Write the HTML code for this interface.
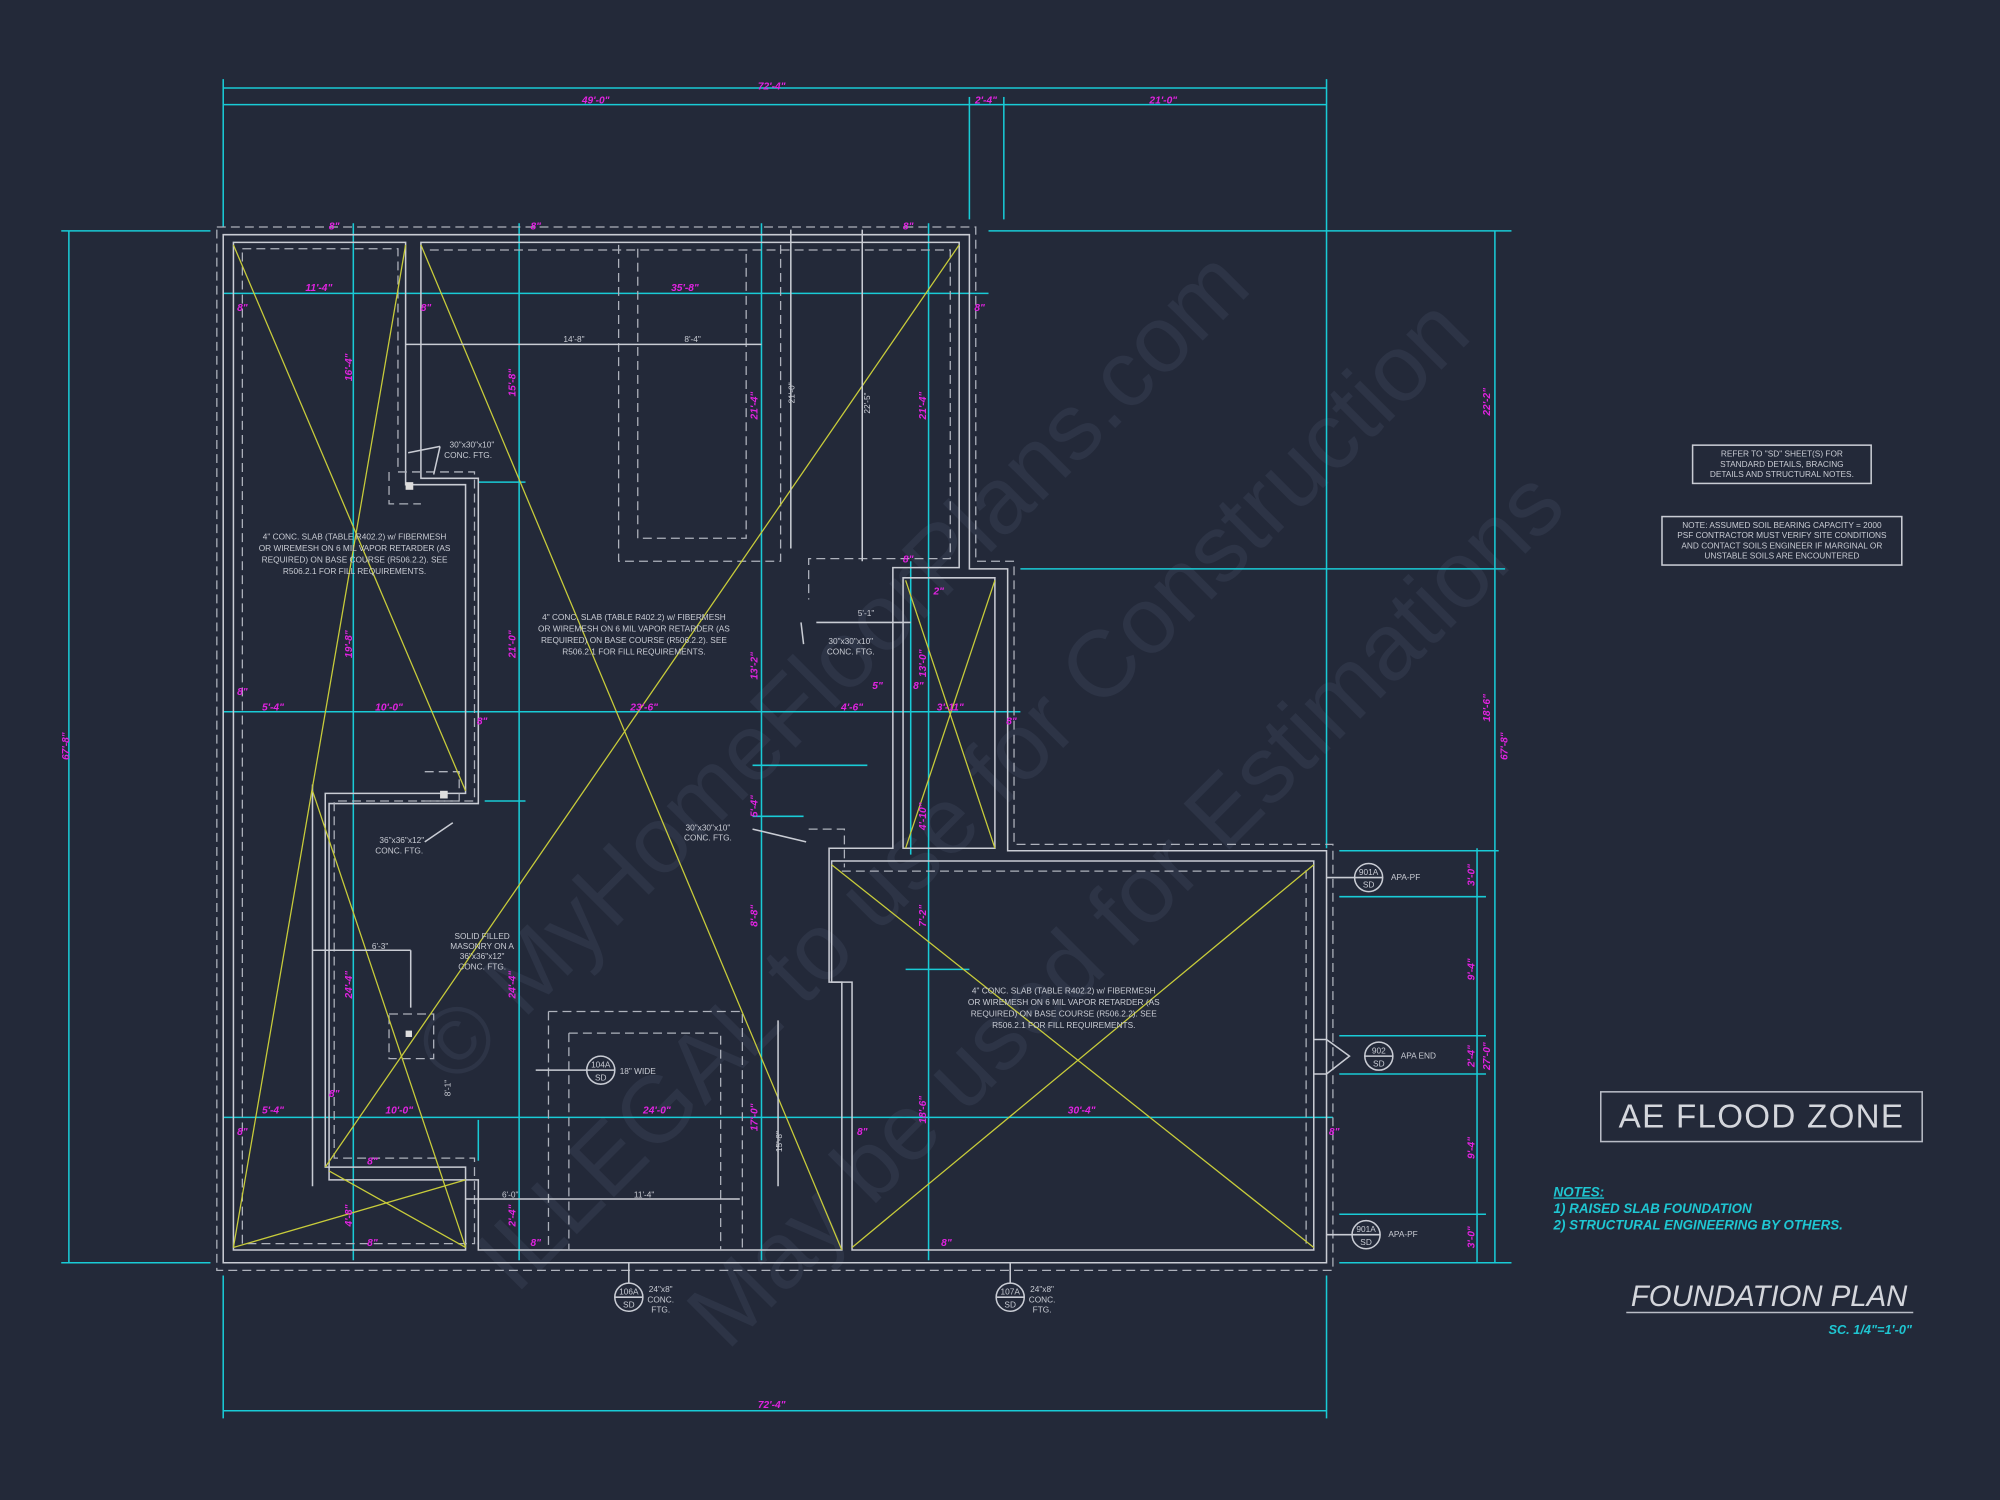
<!DOCTYPE html>
<html><head><meta charset="utf-8"><style>
html,body{margin:0;padding:0;background:#232939;}
svg{display:block}
text{font-family:"Liberation Sans",sans-serif}
.w{stroke:#c9ccd4;fill:none;stroke-width:1.2}
.d{stroke:#aeb2bc;fill:none;stroke-width:1;stroke-dasharray:7 4}
.c{stroke:#19cbd6;fill:none;stroke-width:1.2}
.y{stroke:#c8cc3a;fill:none;stroke-width:1}
.m{fill:#e023e0;font-size:8px;font-style:italic;font-weight:bold}
.t{fill:#c9ccd4;font-size:6.5px}
</style></head><body>
<svg width="2000" height="1500" viewBox="0 0 1568 1176" preserveAspectRatio="none" xmlns="http://www.w3.org/2000/svg">
<rect width="1568" height="1176" fill="#232939"/>
<!-- watermark -->
<g fill="#2d3446" font-family="Liberation Serif,serif" font-size="74" text-anchor="middle">
<text transform="translate(670,540) rotate(-45)">© MyHomeFloorPlans.com</text>
<text transform="translate(780,640) rotate(-45)">ILLEGAL to use for Construction</text>
<text transform="translate(900,730) rotate(-45)">May be used for Estimations</text>
</g>
<!-- overall dims -->
<g class="c">
<line x1="175" y1="69" x2="1040" y2="69"/><line x1="175" y1="82" x2="1040" y2="82"/>
<line x1="175" y1="62" x2="175" y2="178"/><line x1="1040" y1="62" x2="1040" y2="665"/>
<line x1="760" y1="76" x2="760" y2="172"/><line x1="787" y1="76" x2="787" y2="172"/>
<line x1="175" y1="1106" x2="1040" y2="1106"/><line x1="175" y1="1000" x2="175" y2="1112"/><line x1="1040" y1="1000" x2="1040" y2="1112"/>
<line x1="54" y1="181" x2="54" y2="990"/><line x1="1172" y1="181" x2="1172" y2="990"/><line x1="1158" y1="665" x2="1158" y2="990"/>
<line x1="48" y1="181" x2="165" y2="181"/><line x1="48" y1="990" x2="165" y2="990"/>
<line x1="775" y1="181" x2="1185" y2="181"/><line x1="1050" y1="990" x2="1185" y2="990"/>
<line x1="800" y1="446" x2="1180" y2="446"/><line x1="1050" y1="667" x2="1175" y2="667"/>
<line x1="1050" y1="703" x2="1165" y2="703"/><line x1="1050" y1="812" x2="1165" y2="812"/>
<line x1="1050" y1="842" x2="1165" y2="842"/><line x1="1050" y1="952" x2="1165" y2="952"/>
<line x1="277" y1="175" x2="277" y2="988"/><line x1="407" y1="175" x2="407" y2="988"/>
<line x1="597" y1="175" x2="597" y2="988"/><line x1="728" y1="175" x2="728" y2="988"/>
<line x1="714" y1="440" x2="714" y2="670"/>
<line x1="175" y1="230" x2="775" y2="230"/><line x1="175" y1="558" x2="800" y2="558"/>
<line x1="175" y1="876" x2="1045" y2="876"/>
<line x1="590" y1="600" x2="680" y2="600"/><line x1="590" y1="640" x2="630" y2="640"/>
<line x1="380" y1="628" x2="412" y2="628"/><line x1="375" y1="378" x2="412" y2="378"/>
<line x1="710" y1="760" x2="760" y2="760"/><line x1="375" y1="878" x2="375" y2="910"/>
</g>
<!-- foundation outline -->
<path class="d" d="M170,178 H765 V440 H795 V662 H1045 V996 H170 Z"/>
<path class="w" d="M175,184 H760 V446 H790 V667 H1040 V990 H175 Z"/>
<path class="w" d="M183,190 H318 V380 H365 V622 H255 V915 H365 V980 H183 Z"/>
<path class="w" d="M245,615 V930 M330,190 H752 V445 H700 V665 H650 V770 H660 V980 H375 V925 H258 V630 H375 V375 H330 Z"/>
<path class="w" d="M708,453 H780 V665 H708 Z"/>
<path class="w" d="M652,675 H1030 V980 H668 V770 H652 Z"/>
<path class="d" d="M190,195 H312 V370 H372 V628 H262 V908 H372 V975 H190 Z"/>
<path class="d" d="M337,196 H745 V438 H634 V470 M485,192 V440 H612 V192 M500,195 V422 H585 V195"/>
<path class="d" d="M430,793 H582 V980 M430,793 V980 M446,810 H565 V980 M446,810 V980"/>
<path class="d" d="M660,683 H1024 V975 M634,650 H662 V680 M305,370 V395 H330 M333,605 H360 V628 H330"/>
<path class="d" d="M305,795 H340 V830 H305 Z"/>
<!-- yellow -->
<g class="y">
<line x1="183" y1="192" x2="365" y2="620"/><line x1="318" y1="192" x2="183" y2="978"/>
<line x1="330" y1="192" x2="660" y2="980"/><line x1="752" y1="192" x2="255" y2="915"/>
<line x1="245" y1="620" x2="365" y2="978"/><line x1="183" y1="978" x2="365" y2="925"/>
<line x1="258" y1="918" x2="365" y2="978"/>
<line x1="710" y1="455" x2="780" y2="665"/><line x1="780" y1="455" x2="710" y2="665"/>
<line x1="652" y1="678" x2="1030" y2="978"/><line x1="1030" y1="678" x2="668" y2="978"/>
</g>
<!-- white dim lines -->
<g class="w" stroke-width="0.8">
<line x1="318" y1="270" x2="597" y2="270"/><line x1="245" y1="745" x2="322" y2="745"/>
<line x1="322" y1="745" x2="322" y2="790"/><line x1="365" y1="940" x2="580" y2="940"/>
<line x1="676" y1="180" x2="676" y2="440"/><line x1="620" y1="180" x2="620" y2="430"/>
<line x1="640" y1="488" x2="714" y2="488"/><line x1="610" y1="800" x2="610" y2="930"/>
<line x1="420" y1="839" x2="460" y2="839"/>
</g>
<rect x="318" y="378" width="6" height="6" fill="#ddd"/><rect x="345" y="620" width="6" height="6" fill="#ddd"/>
<rect x="318" y="808" width="5" height="5" fill="#ddd"/>
<!-- magenta labels -->
<g class="m" text-anchor="middle">
<text x="605" y="70">72'-4"</text><text x="467" y="81">49'-0"</text><text x="773" y="81">2'-4"</text><text x="912" y="81">21'-0"</text>
<text x="605" y="1104">72'-4"</text>
<text x="250" y="228">11'-4"</text><text x="537" y="228">35'-8"</text>
<text x="214" y="557">5'-4"</text><text x="305" y="557">10'-0"</text><text x="505" y="557">23'-6"</text><text x="668" y="557">4'-6"</text><text x="745" y="557">3'-11"</text>
<text x="214" y="873">5'-4"</text><text x="313" y="873">10'-0"</text><text x="515" y="873">24'-0"</text><text x="848" y="873">30'-4"</text>
<text x="262" y="180">8"</text><text x="420" y="180">8"</text><text x="712" y="180">8"</text>
<text x="190" y="244">8"</text><text x="334" y="244">8"</text><text x="768" y="244">8"</text>
<text x="190" y="545">8"</text><text x="378" y="568">8"</text><text x="793" y="568">8"</text><text x="688" y="540">5"</text><text x="720" y="540">8"</text>
<text x="190" y="890">8"</text><text x="262" y="860">8"</text><text x="676" y="890">8"</text><text x="1046" y="890">8"</text>
<text x="292" y="913">8"</text><text x="420" y="977">8"</text><text x="742" y="977">8"</text><text x="292" y="977">8"</text>
<text x="712" y="441">8"</text><text x="736" y="466">2"</text>
<text transform="translate(54,585) rotate(-90)">67'-8"</text><text transform="translate(1182,585) rotate(-90)">67'-8"</text>
<text transform="translate(1168,315) rotate(-90)">22'-2"</text><text transform="translate(1168,555) rotate(-90)">18'-6"</text>
<text transform="translate(1156,686) rotate(-90)">3'-0"</text><text transform="translate(1156,760) rotate(-90)">9'-4"</text>
<text transform="translate(1156,828) rotate(-90)">2'-4"</text><text transform="translate(1168,828) rotate(-90)">27'-0"</text>
<text transform="translate(1156,900) rotate(-90)">9'-4"</text><text transform="translate(1156,970) rotate(-90)">3'-0"</text>
<text transform="translate(276,288) rotate(-90)">16'-4"</text><text transform="translate(404,300) rotate(-90)">15'-8"</text>
<text transform="translate(594,318) rotate(-90)">21'-4"</text><text transform="translate(726,318) rotate(-90)">21'-4"</text>
<text transform="translate(276,505) rotate(-90)">19'-8"</text><text transform="translate(404,505) rotate(-90)">21'-0"</text>
<text transform="translate(594,522) rotate(-90)">13'-2"</text><text transform="translate(726,520) rotate(-90)">13'-0"</text>
<text transform="translate(594,632) rotate(-90)">5'-4"</text><text transform="translate(726,640) rotate(-90)">4'-10"</text>
<text transform="translate(594,718) rotate(-90)">8'-8"</text><text transform="translate(726,718) rotate(-90)">7'-2"</text>
<text transform="translate(276,772) rotate(-90)">24'-4"</text><text transform="translate(404,772) rotate(-90)">24'-4"</text>
<text transform="translate(594,876) rotate(-90)">17'-0"</text><text transform="translate(726,870) rotate(-90)">18'-6"</text>
<text transform="translate(276,953) rotate(-90)">4'-8"</text><text transform="translate(404,953) rotate(-90)">2'-4"</text>
</g>
<!-- white text -->
<g class="t" text-anchor="middle">
<text x="450" y="268">14'-8"</text><text x="543" y="268">8'-4"</text><text x="298" y="744">6'-3"</text>
<text x="400" y="939">6'-0"</text><text x="505" y="939">11'-4"</text><text x="679" y="483">5'-1"</text>
<text transform="translate(623,308) rotate(-90)">21'-0"</text><text transform="translate(682,316) rotate(-90)">22'-5"</text>
<text transform="translate(613,895) rotate(-90)">15'-8"</text><text transform="translate(353,853) rotate(-90)">8'-1"</text>
<text x="278" y="423">4" CONC. SLAB (TABLE R402.2) w/ FIBERMESH</text>
<text x="278" y="432">OR WIREMESH ON 6 MIL VAPOR RETARDER (AS</text>
<text x="278" y="441">REQUIRED) ON BASE COURSE (R506.2.2). SEE</text>
<text x="278" y="450">R506.2.1 FOR FILL REQUIREMENTS.</text>
<text x="497" y="486">4" CONC. SLAB (TABLE R402.2) w/ FIBERMESH</text>
<text x="497" y="495">OR WIREMESH ON 6 MIL VAPOR RETARDER (AS</text>
<text x="497" y="504">REQUIRED) ON BASE COURSE (R506.2.2). SEE</text>
<text x="497" y="513">R506.2.1 FOR FILL REQUIREMENTS.</text>
<text x="834" y="779">4" CONC. SLAB (TABLE R402.2) w/ FIBERMESH</text>
<text x="834" y="788">OR WIREMESH ON 6 MIL VAPOR RETARDER (AS</text>
<text x="834" y="797">REQUIRED) ON BASE COURSE (R506.2.2). SEE</text>
<text x="834" y="806">R506.2.1 FOR FILL REQUIREMENTS.</text>
<text x="370" y="351">30"x30"x10"</text><text x="367" y="359">CONC. FTG.</text>
<text x="667" y="505">30"x30"x10"</text><text x="667" y="513">CONC. FTG.</text>
<text x="555" y="651">30"x30"x10"</text><text x="555" y="659">CONC. FTG.</text>
<text x="315" y="661">36"x36"x12"</text><text x="313" y="669">CONC. FTG.</text>
<text x="378" y="736">SOLID FILLED</text><text x="378" y="744">MASONRY ON A</text><text x="378" y="752">36"x36"x12"</text><text x="378" y="760">CONC. FTG.</text>
<text x="518" y="1013">24"x8"</text><text x="518" y="1021">CONC.</text><text x="518" y="1029">FTG.</text>
<text x="817" y="1013">24"x8"</text><text x="817" y="1021">CONC.</text><text x="817" y="1029">FTG.</text>
<text x="500" y="842">18" WIDE</text>
<text x="1102" y="690">APA-PF</text><text x="1112" y="830">APA END</text><text x="1100" y="970">APA-PF</text>
<text x="1397" y="358">REFER TO "SD" SHEET(S) FOR</text><text x="1397" y="366">STANDARD DETAILS, BRACING</text><text x="1397" y="374">DETAILS AND STRUCTURAL NOTES.</text>
<text x="1397" y="414">NOTE: ASSUMED SOIL BEARING CAPACITY = 2000</text><text x="1397" y="422">PSF CONTRACTOR MUST VERIFY SITE CONDITIONS</text>
<text x="1397" y="430">AND CONTACT SOILS ENGINEER IF MARGINAL OR</text><text x="1397" y="438">UNSTABLE SOILS ARE ENCOUNTERED</text>
</g>
<g class="w" stroke-width="0.8">
<path d="M320,355 L345,350 M345,350 L340,372 M630,505 L628,488 M590,650 L632,660 M333,660 L355,645"/>
<rect x="1327" y="349" width="140" height="30"/><rect x="1303" y="405" width="188" height="38"/>
</g>
<!-- callouts -->
<g class="w" stroke-width="0.9">
<circle cx="1073" cy="688" r="11"/><line x1="1062" y1="688" x2="1084" y2="688"/><line x1="1040" y1="688" x2="1062" y2="688"/>
<circle cx="1081" cy="828" r="11"/><line x1="1070" y1="828" x2="1092" y2="828"/><path d="M1030,815 H1040 L1058,828 L1040,842 H1030"/>
<circle cx="1071" cy="968" r="11"/><line x1="1060" y1="968" x2="1082" y2="968"/><line x1="1040" y1="968" x2="1060" y2="968"/>
<circle cx="493" cy="1017" r="11"/><line x1="482" y1="1017" x2="504" y2="1017"/><line x1="493" y1="990" x2="493" y2="1006"/>
<circle cx="792" cy="1017" r="11"/><line x1="781" y1="1017" x2="803" y2="1017"/><line x1="792" y1="990" x2="792" y2="1006"/>
<circle cx="471" cy="839" r="11"/><line x1="460" y1="839" x2="482" y2="839"/>
</g>
<g fill="#c9ccd4" font-size="6.5" text-anchor="middle">
<text x="1073" y="686">901A</text><text x="1073" y="696">SD</text>
<text x="1081" y="826">902</text><text x="1081" y="836">SD</text>
<text x="1071" y="966">901A</text><text x="1071" y="976">SD</text>
<text x="493" y="1015">106A</text><text x="493" y="1025">SD</text>
<text x="792" y="1015">107A</text><text x="792" y="1025">SD</text>
<text x="471" y="837">104A</text><text x="471" y="847">SD</text>
</g>
<!-- title block -->
<rect x="1255" y="856" width="252" height="39" fill="none" stroke="#b9bcc6" stroke-width="1.2"/>
<text x="1381" y="884" text-anchor="middle" fill="#d4d6dc" font-size="26" letter-spacing="1">AE FLOOD ZONE</text>
<g fill="#1fc6d2" font-size="10.5" font-style="italic" font-weight="bold">
<text x="1218" y="938" text-decoration="underline">NOTES:</text>
<text x="1218" y="951">1) RAISED SLAB FOUNDATION</text>
<text x="1218" y="964">2) STRUCTURAL ENGINEERING BY OTHERS.</text>
<text x="1499" y="1046" text-anchor="end" font-size="10">SC. 1/4"=1'-0"</text>
</g>
<text x="1387" y="1024" text-anchor="middle" fill="#d4d6dc" font-size="23" font-style="italic">FOUNDATION PLAN</text>
<line x1="1275" y1="1029" x2="1500" y2="1029" stroke="#b9bcc6" stroke-width="1.2"/>
</svg>
</body></html>
